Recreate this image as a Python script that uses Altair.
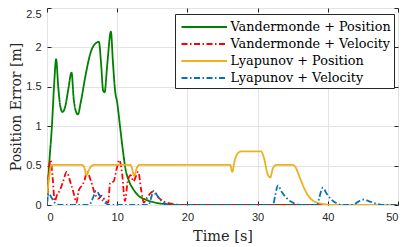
import altair as alt
import pandas as pd

# ---- data ----
series_names = ["Vandermonde + Position", "Vandermonde + Velocity",
                "Lyapunov + Position", "Lyapunov + Velocity"]

vp_t = [0, 0.3, 0.7, 1.0, 1.3, 1.6, 1.9, 2.2, 2.6, 3.0, 3.5, 3.8, 4.2, 4.4, 4.8, 5.5, 6.2, 6.8, 7.4,
        7.7, 8.0, 8.2, 8.6, 9.1, 9.4, 9.7, 10.0, 10.4, 10.8, 11.2, 11.7, 12.3, 13.0, 14, 15, 16, 17, 18, 50]
vp_v = [0, 0.5, 1.0, 1.5, 1.85, 1.5, 1.25, 1.18, 1.25, 1.45, 1.68, 1.35, 1.17, 1.15, 1.3, 1.65, 1.93, 2.04, 2.07,
        1.8, 1.45, 1.43, 1.8, 2.2, 1.8, 1.45, 1.3, 1.0, 0.7, 0.45, 0.3, 0.2, 0.12, 0.07, 0.04, 0.02, 0.01, 0, 0]

vv_t = [0, 0.2, 0.5, 0.8, 1.1, 1.4, 1.9, 2.3, 2.8, 3.3, 3.8, 4.2, 4.5, 5.0, 5.3, 5.7, 6.2, 6.8, 7.3, 7.8,
        8.3, 8.7, 9.0, 9.5, 9.9, 10.3, 10.7, 11.1, 11.5, 11.9, 12.3, 13.0, 13.4, 13.8, 14.3, 15.1, 15.6,
        16.5, 17.5, 18.5, 20, 50]
vv_v = [0, 0.35, 0.57, 0.35, 0.05, 0.12, 0.2, 0.3, 0.42, 0.3, 0.15, 0.03, 0.18, 0.25, 0.3, 0.42, 0.32, 0.15,
        0.08, 0.12, 0.05, 0.03, 0.28, 0.3, 0.45, 0.57, 0.4, 0.05, 0.3, 0.38, 0.3, 0.42, 0.2, 0.03, 0.1, 0.17,
        0.12, 0.05, 0.02, 0.005, 0, 0]

lp_t = [0, 0.3, 0.6, 1.0, 5.0, 5.3, 5.6, 6.0, 6.4, 6.8, 11.9, 12.1, 12.4, 12.8, 13.2, 26.1, 26.4, 26.7,
        27.2, 27.7, 30.5, 30.9, 31.4, 31.8, 32.2, 32.7, 35.0, 35.4, 36.0, 36.6, 37.2, 37.8, 38.5, 39.5, 41, 50]
lp_v = [0.1, 0.35, 0.5, 0.51, 0.51, 0.48, 0.38, 0.45, 0.5, 0.51, 0.51, 0.47, 0.37, 0.47, 0.51, 0.51, 0.42,
        0.55, 0.66, 0.68, 0.68, 0.6, 0.4, 0.35, 0.47, 0.51, 0.51, 0.48, 0.35, 0.22, 0.12, 0.06, 0.03, 0.01, 0, 0]

lv_t = [0, 0.2, 0.6, 1.0, 1.5, 2, 6.0, 6.5, 7.0, 7.5, 8.0, 8.6, 9, 14.5, 14.8, 15.2, 15.7, 16.3, 17, 17.5,
        32.2, 32.5, 32.9, 33.4, 34.0, 34.8, 35.5, 36.5, 38.5, 38.8, 39.3, 39.8, 40.5, 41.3, 42, 43.5,
        44.3, 45.0, 45.8, 46.8, 48, 50]
lv_v = [0.02, 0.15, 0.1, 0.04, 0.01, 0, 0, 0.08, 0.18, 0.12, 0.05, 0.01, 0, 0, 0.08, 0.18, 0.12, 0.05, 0.01, 0,
        0, 0.12, 0.25, 0.17, 0.1, 0.04, 0.01, 0, 0, 0.1, 0.22, 0.15, 0.07, 0.02, 0, 0,
        0.04, 0.07, 0.05, 0.02, 0, 0]

x_ticks = [0, 10, 20, 30, 40, 50]
y_ticks = [0, 0.5, 1, 1.5, 2, 2.5]

colors = ["#008000", "#FF0000", "#EDB120", "#0072BD"]
dashes = [[1, 0], [6, 2.5, 1.5, 2.5], [1, 0], [6, 2.5, 1.5, 2.5]]

rows = []
for name, ts, vs in zip(series_names, [vp_t, vv_t, lp_t, lv_t], [vp_v, vv_v, lp_v, lv_v]):
    for i, (t, v) in enumerate(zip(ts, vs)):
        rows.append({"series": name, "t": t, "v": v, "i": i})
df = pd.DataFrame(rows)

xscale = alt.Scale(domain=[0, 50], nice=False, zero=False)
yscale = alt.Scale(domain=[0, 2.5], nice=False)

tick_font = "Liberation Sans"
serif = "DejaVu Serif"
axis_col = "#262626"

main = alt.Chart(df).mark_line(strokeWidth=1.8, interpolate="monotone", clip=True).encode(
    x=alt.X("t:Q", scale=xscale,
            axis=alt.Axis(orient="bottom", values=x_ticks, title="Time [s]", grid=True, gridColor="#e3e3e3",
                          domain=False, tickSize=4, offset=-4, tickColor=axis_col,
                          labelPadding=6, labelFont=tick_font, labelFontSize=11, labelColor=axis_col,
                          titleFont=serif, titleFontSize=14.5, titleFontWeight="normal",
                          titleColor=axis_col, titlePadding=7)),
    y=alt.Y("v:Q", scale=yscale,
            axis=alt.Axis(orient="left", values=y_ticks, title="Position Error [m]", grid=True,
                          gridColor="#e3e3e3",
                          format="~g", domain=False, tickSize=4, offset=-4, tickColor=axis_col,
                          labelPadding=6, labelFont=tick_font, labelFontSize=11, labelColor=axis_col,
                          labelOffset=alt.condition("datum.value == 2.5", alt.value(6), alt.value(0)),
                          titleFont=serif, titleFontSize=14, titleFontWeight="normal",
                          titleColor=axis_col, titlePadding=2)),
    color=alt.Color("series:N", scale=alt.Scale(domain=series_names, range=colors),
                    legend=alt.Legend(title=None, orient="none", legendX=128, legendY=6,
                                      fillColor="white", strokeColor=axis_col, padding=3,
                                      symbolType="M-2.6,0H2.6", symbolSize=306, symbolStrokeWidth=2,
                                      symbolOffset=16.25, labelOffset=16.25,
                                      labelFont=serif, labelFontSize=12.8, labelColor="black",
                                      rowPadding=0, labelLimit=300)),
    strokeDash=alt.StrokeDash("series:N", scale=alt.Scale(domain=series_names, range=dashes),
                              legend=None),
    order="i:Q",
)

# inward ticks on top & right edges
frame = alt.Chart(df).mark_line(opacity=0).encode(
    x=alt.X("t:Q", scale=xscale,
            axis=alt.Axis(orient="top", values=x_ticks, title=None, labels=False, grid=False,
                          domain=False, tickSize=4, offset=-4, tickColor=axis_col)),
    y=alt.Y("v:Q", scale=yscale,
            axis=alt.Axis(orient="right", values=y_ticks, title=None, labels=False, grid=False,
                          domain=False, tickSize=4, offset=-4, tickColor=axis_col)),
    detail="series:N",
    order="i:Q",
)

chart = alt.layer(main, frame).resolve_axis(x="independent", y="independent").properties(
    width=351, height=197,
    autosize=alt.AutoSizeParams(type="none"),
    padding={"left": 39, "top": 0, "right": 1, "bottom": 40},
).configure_view(stroke=axis_col, strokeWidth=1)

chart.save("out.html", embed_options={"renderer": "svg", "actions": False})
